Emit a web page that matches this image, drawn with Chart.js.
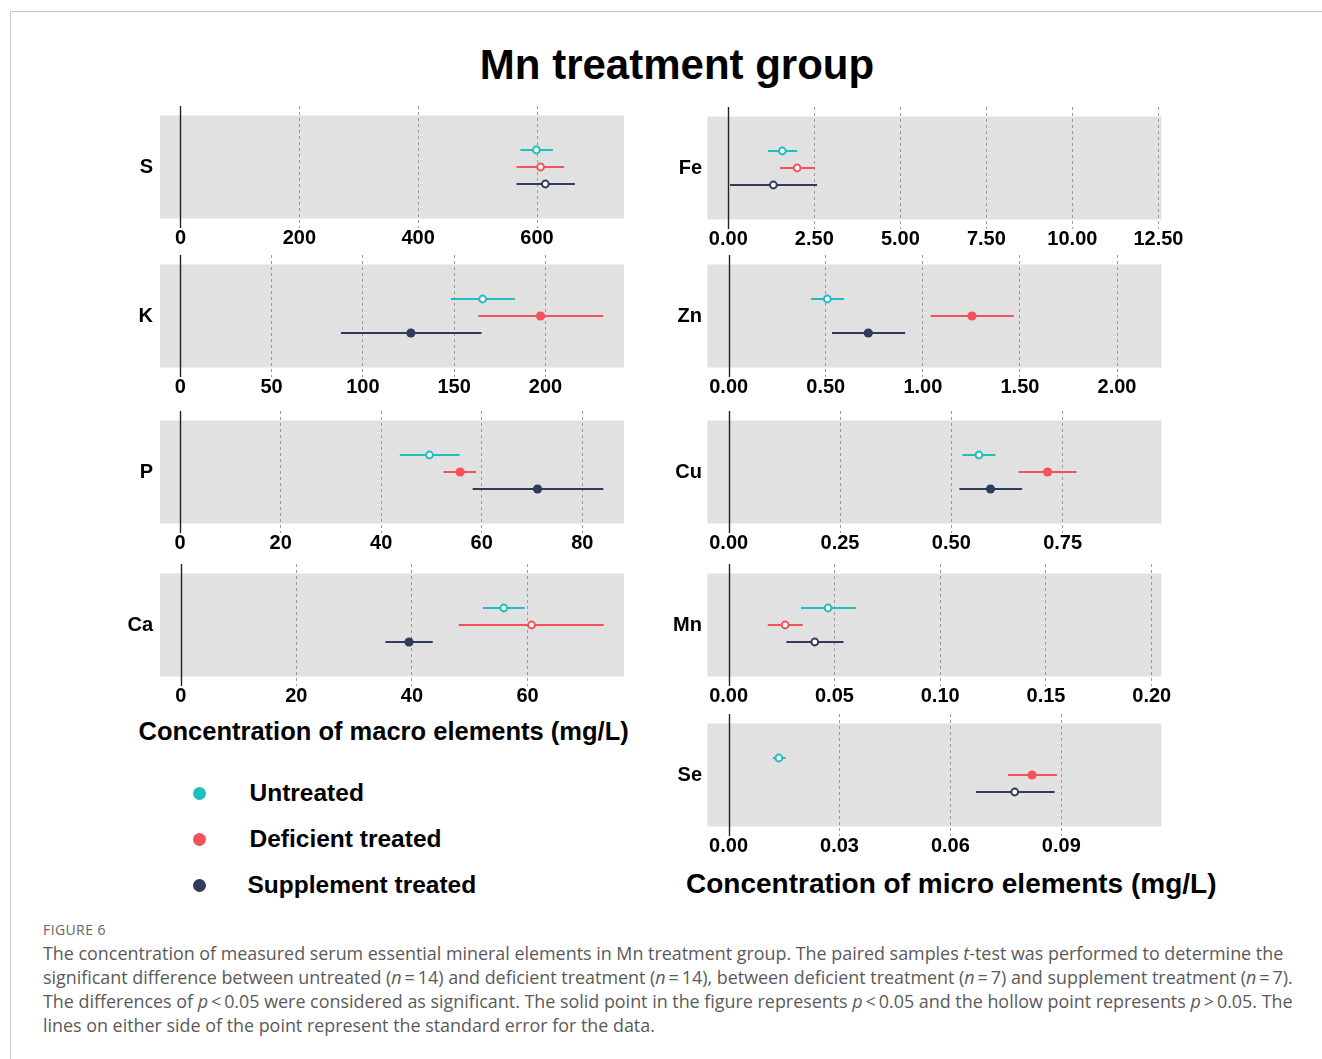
<!DOCTYPE html>
<html>
<head>
<meta charset="utf-8">
<title>Mn treatment group</title>
<script src="https://cdn.jsdelivr.net/npm/chart.js@4.4.0/dist/chart.umd.min.js"></script>
<style>
  body { margin: 0; background: #fff; width: 1322px; height: 1059px; position: relative; overflow: hidden;
         font-family: 'Liberation Sans', Arial, sans-serif; }
  .frame { position: absolute; left: 10px; top: 11px; width: 1400px; height: 1100px;
           border-top: 1px solid #c6c6c6; border-left: 1px solid #c6c6c6; }
  canvas { position: absolute; }
  .txt { position: absolute; white-space: nowrap; line-height: 1; font-weight: bold; color: #000; }
  .dot { position: absolute; width: 13px; height: 13px; border-radius: 50%; }
  .cap { position: absolute; left: 43px; white-space: nowrap; font-family: 'Open Sans', sans-serif;
         font-size: 17.9px; line-height: 24px; color: #5a5a5a; }
  .fig { position: absolute; left: 43px; top: 918px; font-family: 'Open Sans', sans-serif; font-size: 14px;
         line-height: 24px; color: #666; letter-spacing: 0.4px; }
</style>
</head>
<body>
<div class="frame"></div>

<div class="txt" style="left:677px; top:44.4px; font-size:42px; transform:translateX(-50%);">Mn treatment group</div>

<div class="txt" style="left:138.5px; top:719.1px; font-size:25.5px;">Concentration of macro elements (mg/L)</div>
<div class="txt" style="left:686px; top:869.8px; font-size:28px;">Concentration of micro elements (mg/L)</div>

<div class="dot" style="left:193px; top:787px; background:#1dbfc1;"></div>
<div class="dot" style="left:193px; top:833px; background:#f3525a;"></div>
<div class="dot" style="left:193px; top:878.5px; background:#313b5b;"></div>
<div class="txt" style="left:249.5px; top:781px; font-size:24.5px;">Untreated</div>
<div class="txt" style="left:249.5px; top:826.8px; font-size:24.5px;">Deficient treated</div>
<div class="txt" style="left:247.5px; top:872.6px; font-size:24.5px;">Supplement treated</div>

<div class="fig">FIGURE 6</div>
<div class="cap" style="top:941px;">The concentration of measured serum essential mineral elements in Mn treatment group. The paired samples <i>t</i>-test was performed to determine the</div>
<div class="cap" style="top:965px;">significant difference between untreated (<i>n</i>&#8201;=&#8201;14) and deficient treatment (<i>n</i>&#8201;=&#8201;14), between deficient treatment (<i>n</i>&#8201;=&#8201;7) and supplement treatment (<i>n</i>&#8201;=&#8201;7).</div>
<div class="cap" style="top:989px;">The differences of <i>p</i>&#8201;&lt;&#8201;0.05 were considered as significant. The solid point in the figure represents <i>p</i>&#8201;&lt;&#8201;0.05 and the hollow point represents <i>p</i>&#8201;&gt;&#8201;0.05. The</div>
<div class="cap" style="top:1013px;">lines on either side of the point represent the standard error for the data.</div>

<script>
// Data, one entry per element
const elements = ['S', 'K', 'P', 'Ca', 'Fe', 'Zn', 'Cu', 'Mn', 'Se'];

const untreatedMean  = [599,   165.6, 49.6, 55.9, 1.57, 0.508, 0.562, 0.0470, 0.0136];
const untreatedLow   = [572,   148.2, 43.7, 52.3, 1.15, 0.424, 0.525, 0.0342, 0.0120];
const untreatedHigh  = [627,   183.3, 55.6, 59.5, 2.00, 0.594, 0.599, 0.0601, 0.0154];

const deficientMean  = [606,   197.3, 55.7, 60.7, 2.00, 1.253, 0.716, 0.0267, 0.0821];
const deficientLow   = [565.5, 163.2, 52.4, 48.1, 1.50, 1.040, 0.651, 0.0185, 0.0756];
const deficientHigh  = [645.7, 231.5, 58.9, 73.2, 2.52, 1.468, 0.781, 0.0350, 0.0888];

const supplementMean = [614,   126.3, 71.1, 39.5, 1.31, 0.719, 0.588, 0.0407, 0.0774];
const supplementLow  = [565.5, 88.0,  58.2, 35.4, 0.05, 0.532, 0.518, 0.0273, 0.0669];
const supplementHigh = [663.6, 165.0, 84.2, 43.6, 2.58, 0.909, 0.659, 0.0543, 0.0882];

// 1 = p < 0.05 (solid point), 0 = hollow point
const untreatedSig  = [0, 0, 0, 0, 0, 0, 0, 0, 0];
const deficientSig  = [0, 1, 1, 0, 0, 1, 1, 0, 1];
const supplementSig = [0, 1, 1, 1, 0, 1, 1, 0, 0];

// x axis limits and tick labels
const axisMin    = [-34.5, -11.1, -4.0, -3.6, -0.605, -0.109, -0.0476, -0.0100, -0.0057];
const axisMax    = [746.4, 243.0, 88.3, 76.7, 12.59, 2.229, 0.972, 0.2046, 0.1171];
const tickStep   = [200, 50, 20, 20, 2.5, 0.5, 0.25, 0.05, 0.03];
const tickDigits = [0, 0, 0, 0, 2, 2, 2, 2, 2];

// Panel placement: column and vertical centre of each panel
const panelColumn = [0, 0, 0, 0, 1, 1, 1, 1, 1];
const panelCentre = [167, 316, 471.7, 624.7, 167.7, 316, 471.7, 624.7, 775];

const teal = '#1dbfc1';
const red = '#f3525a';
const navy = '#313b5b';
const FONT = "'Liberation Sans', Arial, sans-serif";
const ROW_PX = 17;        // distance between the three rows
const HALF_AREA = 61;     // half height of the plot area

// Grey panel behind the grid
const panelBackground = {
    id: 'panelBackground',
    beforeDraw(chart) {
        const a = chart.chartArea;
        const c = chart.ctx;
        c.save();
        c.fillStyle = '#e1e1e1';
        c.fillRect(a.left, a.top + 9.5, a.right - a.left, a.bottom - a.top - 19);
        c.restore();
    }
};

// Solid line at zero
const zeroLine = {
    id: 'zeroLine',
    beforeDatasetsDraw(chart) {
        const a = chart.chartArea;
        const x = Math.round(chart.scales.x.getPixelForValue(0)) + 0.5;
        const c = chart.ctx;
        c.save();
        c.strokeStyle = '#222';
        c.lineWidth = 1.4;
        c.beginPath();
        c.moveTo(x, a.top);
        c.lineTo(x, a.bottom);
        c.stroke();
        c.restore();
    }
};

function groupSets(label, color, mean, low, high, sig, row) {
    const solid = sig === 1;
    return [
        {
            label: label,
            data: [{x: mean, y: row}],
            pointRadius: solid ? 4.6 : 3.4,
            pointBorderWidth: solid ? 0 : 2,
            pointBackgroundColor: solid ? color : '#ffffff',
            pointBorderColor: color,
            order: 0
        },
        {
            label: label + ' SE',
            data: [{x: low, y: row}, {x: high, y: row}],
            showLine: true,
            borderColor: color,
            borderWidth: 2,
            pointRadius: 0,
            order: 1
        }
    ];
}

elements.forEach((name, i) => {
    const right = panelColumn[i] === 1;
    const canvas = document.createElement('canvas');
    const w = right ? 600 : 560;
    const h = 176;
    canvas.width = w;
    canvas.height = h;
    canvas.style.left = (right ? 640 : 100) + 'px';
    canvas.style.top = (panelCentre[i] - HALF_AREA - 20) + 'px';
    document.body.appendChild(canvas);

    const datasets = [].concat(
        groupSets('Untreated', teal, untreatedMean[i], untreatedLow[i], untreatedHigh[i], untreatedSig[i], 1),
        groupSets('Deficient treated', red, deficientMean[i], deficientLow[i], deficientHigh[i], deficientSig[i], 0),
        groupSets('Supplement treated', navy, supplementMean[i], supplementLow[i], supplementHigh[i], supplementSig[i], -1)
    );

    new Chart(canvas, {
        type: 'scatter',
        data: {datasets: datasets},
        options: {
            responsive: false,
            animation: false,
            devicePixelRatio: 1,
            layout: {padding: {top: 20, right: right ? 78.5 : 36, bottom: 0, left: 0}},
            plugins: {legend: {display: false}, tooltip: {enabled: false}},
            scales: {
                x: {
                    type: 'linear',
                    position: 'bottom',
                    min: axisMin[i],
                    max: axisMax[i],
                    afterFit: s => { s.height = 34; },
                    // ticks at whole multiples of the step only
                    afterBuildTicks: s => {
                        const step = tickStep[i];
                        const ticks = [];
                        for (let k = Math.ceil(axisMin[i] / step); k * step <= axisMax[i] + 1e-12; k++) {
                            ticks.push({value: +(k * step).toFixed(6)});
                        }
                        s.ticks = ticks;
                    },
                    ticks: {
                        padding: 0,
                        color: '#000',
                        font: {family: FONT, size: 20, weight: 'bold', lineHeight: 1},
                        callback: v => Number(v).toFixed(tickDigits[i])
                    },
                    grid: {
                        drawTicks: false,
                        lineWidth: 1,
                        color: ctx => (ctx.tick && Math.abs(ctx.tick.value) < 1e-9) ? 'rgba(0,0,0,0)' : '#9c9c9c'
                    },
                    border: {display: false, dash: [3, 3]}
                },
                y: {
                    type: 'linear',
                    min: -HALF_AREA / ROW_PX,
                    max: HALF_AREA / ROW_PX,
                    afterFit: s => { s.width = right ? 67.5 : 60; },
                    afterBuildTicks: s => { s.ticks = [{value: 0}]; },
                    ticks: {
                        padding: right ? 5.5 : 7,
                        color: '#000',
                        font: {family: FONT, size: 20, weight: 'bold', lineHeight: 1},
                        callback: () => name
                    },
                    grid: {display: false, drawTicks: false},
                    border: {display: false}
                }
            }
        },
        plugins: [panelBackground, zeroLine]
    });
});
</script>
</body>
</html>
